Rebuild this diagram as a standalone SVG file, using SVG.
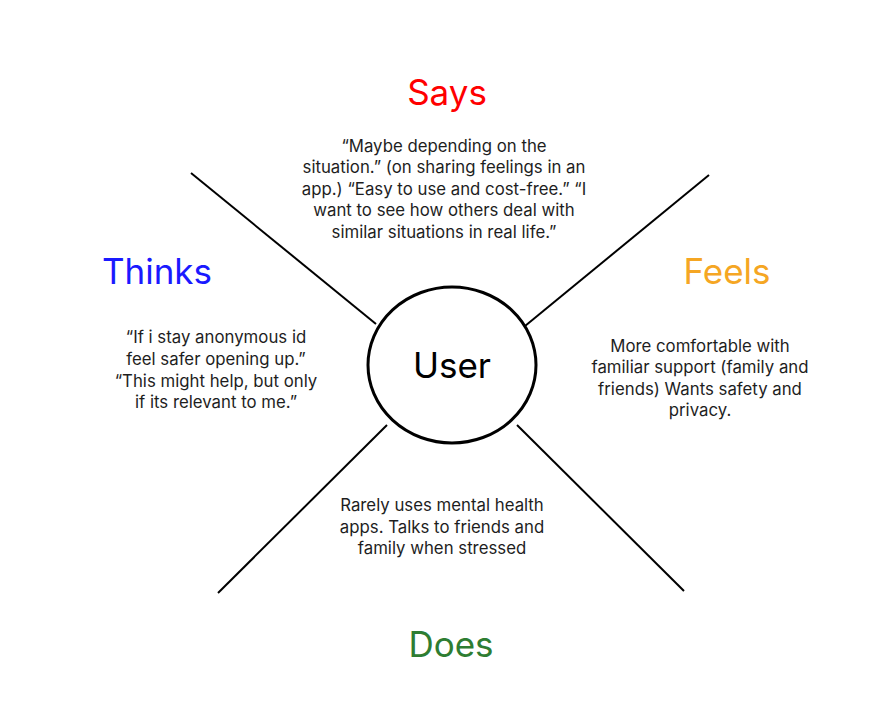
<svg xmlns="http://www.w3.org/2000/svg" width="881" height="707" viewBox="0 0 881 707">
<style>
.t{font-family:Inter,"Noto Sans",sans-serif;font-size:35px;text-anchor:middle}
.b{font-family:Inter,"Noto Sans",sans-serif;font-size:16.8px;fill:#1e1e1e;text-anchor:middle}
.l{stroke:#000;stroke-width:2;fill:none}
</style>
<rect width="881" height="707" fill="#fff"/>
<g id="connectors">
<line class="l" x1="191" y1="173" x2="376" y2="324"/>
<line class="l" x1="709" y1="175" x2="525" y2="326"/>
<line class="l" x1="387" y1="425" x2="218" y2="593"/>
<line class="l" x1="517" y1="425" x2="684" y2="591"/>
</g>
<g id="user">
<ellipse cx="452" cy="365" rx="84" ry="78" fill="#fff" stroke="#000" stroke-width="3"/>
<text class="t" x="452" y="378" fill="#000">User</text>
</g>
<g id="says">
<text class="t" x="447" y="105" fill="#ff0000">Says</text>
<text class="b"><tspan x="444" y="152">“Maybe depending on the</tspan><tspan x="444" y="173">situation.” (on sharing feelings in an</tspan><tspan x="444" y="195">app.) “Easy to use and cost-free.” “I</tspan><tspan x="444" y="216">want to see how others deal with</tspan><tspan x="444" y="238">similar situations in real life.”</tspan></text>
</g>
<g id="thinks">
<text class="t" x="157" y="284" fill="#1a1aff">Thinks</text>
<text class="b"><tspan x="216" y="343">“If i stay anonymous id</tspan><tspan x="216" y="365">feel safer opening up.”</tspan><tspan x="216" y="387">“This might help, but only</tspan><tspan x="216" y="408">if its relevant to me.”</tspan></text>
</g>
<g id="feels">
<text class="t" x="727" y="284" fill="#f5a623">Feels</text>
<text class="b"><tspan x="700" y="352">More comfortable with</tspan><tspan x="700" y="373">familiar support (family and</tspan><tspan x="700" y="395">friends) Wants safety and</tspan><tspan x="700" y="416">privacy.</tspan></text>
</g>
<g id="does">
<text class="t" x="451" y="657" fill="#2e7d32">Does</text>
<text class="b"><tspan x="442" y="511">Rarely uses mental health</tspan><tspan x="442" y="533">apps. Talks to friends and</tspan><tspan x="442" y="554">family when stressed</tspan></text>
</g>
</svg>
